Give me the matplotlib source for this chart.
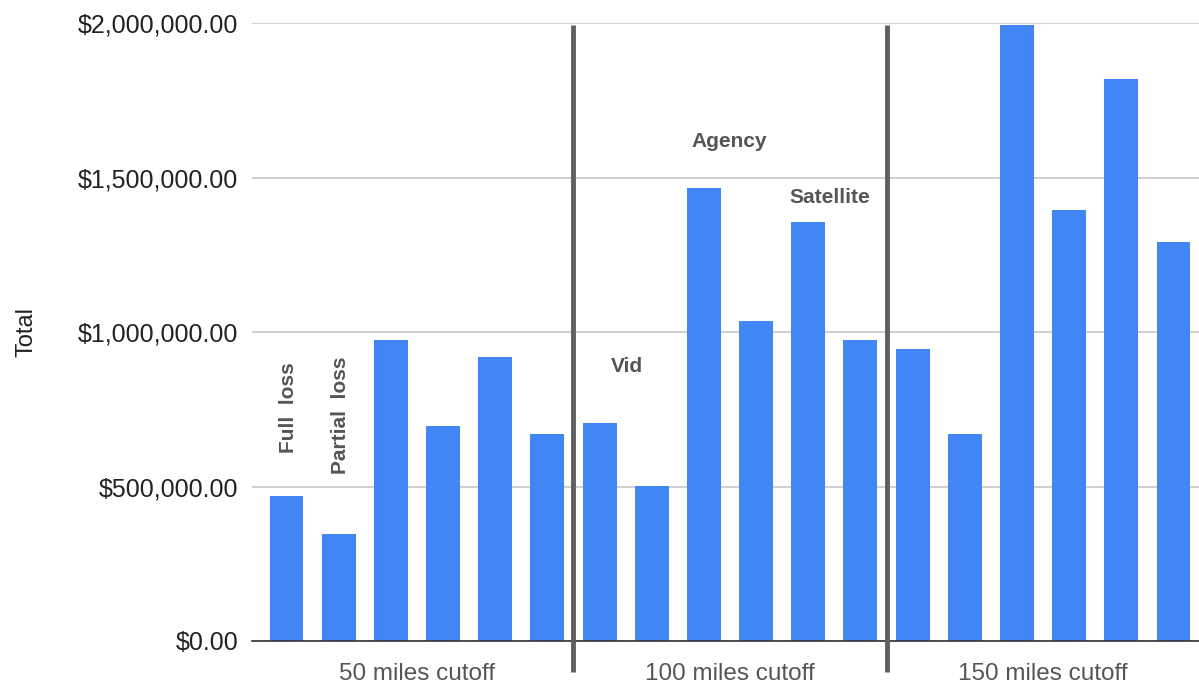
import matplotlib
matplotlib.use("Agg")
import matplotlib.pyplot as plt
from matplotlib.ticker import FuncFormatter

plt.rcParams['font.family'] = ['Liberation Sans', 'DejaVu Sans']

groups = ["50 miles cutoff", "100 miles cutoff", "150 miles cutoff"]
values = [470000, 345000, 975000, 695000, 920000, 670000,
          705000, 502000, 1465000, 1035000, 1355000, 975000,
          945000, 670000, 1995000, 1395000, 1820000, 1290000]
yticks = [0, 500000, 1000000, 1500000, 2000000]

W, H = 1199, 686
fig = plt.figure(figsize=(W / 100, H / 100), dpi=100)
ax_left, ax_right, ax_bottom, ax_top = 252, 1199, 641, 23
ax = fig.add_axes([ax_left / W, (H - ax_bottom) / H,
                   (ax_right - ax_left) / W, (ax_bottom - ax_top) / H])

x = list(range(len(values)))
ax.bar(x, values, width=0.65, color='#4285F4', zorder=3)
ax.set_xlim(-0.661, 17.489)
ax.set_ylim(0, 2000000)
ax.set_yticks(yticks)
ax.yaxis.set_major_formatter(FuncFormatter(lambda v, p: f"${v:,.2f}"))
ax.tick_params(axis='y', length=0, pad=10, labelsize=18, labelcolor='#222222')
ax.set_xticks([])
ax.grid(axis='y', color='#cccccc', linewidth=1.3, zorder=0)
for s in ['top', 'right', 'left']:
    ax.spines[s].set_visible(False)
ax.spines['bottom'].set_color('#333333')
ax.spines['bottom'].set_linewidth(1.2)
ax.spines['bottom'].set_zorder(4)

# group dividers
trans = ax.get_xaxis_transform()
ph = ax_bottom - ax_top
for xd in [5.5, 11.5]:
    ax.plot([xd, xd], [-31 / ph, (ax_bottom - 25) / ph], transform=trans,
            color='#5f5f5f', linewidth=3.5, clip_on=False, zorder=5,
            solid_capstyle='butt')

# group labels
for i, g in enumerate(groups):
    ax.text(2.5 + 6 * i, -33 / ph, g, transform=trans, ha='center', va='center',
            fontsize=17.5, color='#555555')

ax.set_ylabel("Total", fontsize=17, color='#222222', labelpad=29)

ann = dict(fontsize=15, fontweight='bold', color='#555555', ha='center', va='center', zorder=6)
ax.text(0.03, 754000, "Full  loss", rotation=90, **ann)
ax.text(1.03, 731000, "Partial  loss", rotation=90, **ann)
ax.text(6.53, 887000, "Vid", **ann)
ax.text(8.48, 1618000, "Agency", **ann)
ax.text(10.42, 1434000, "Satellite", **ann)

fig.savefig("out.png", dpi=100)
